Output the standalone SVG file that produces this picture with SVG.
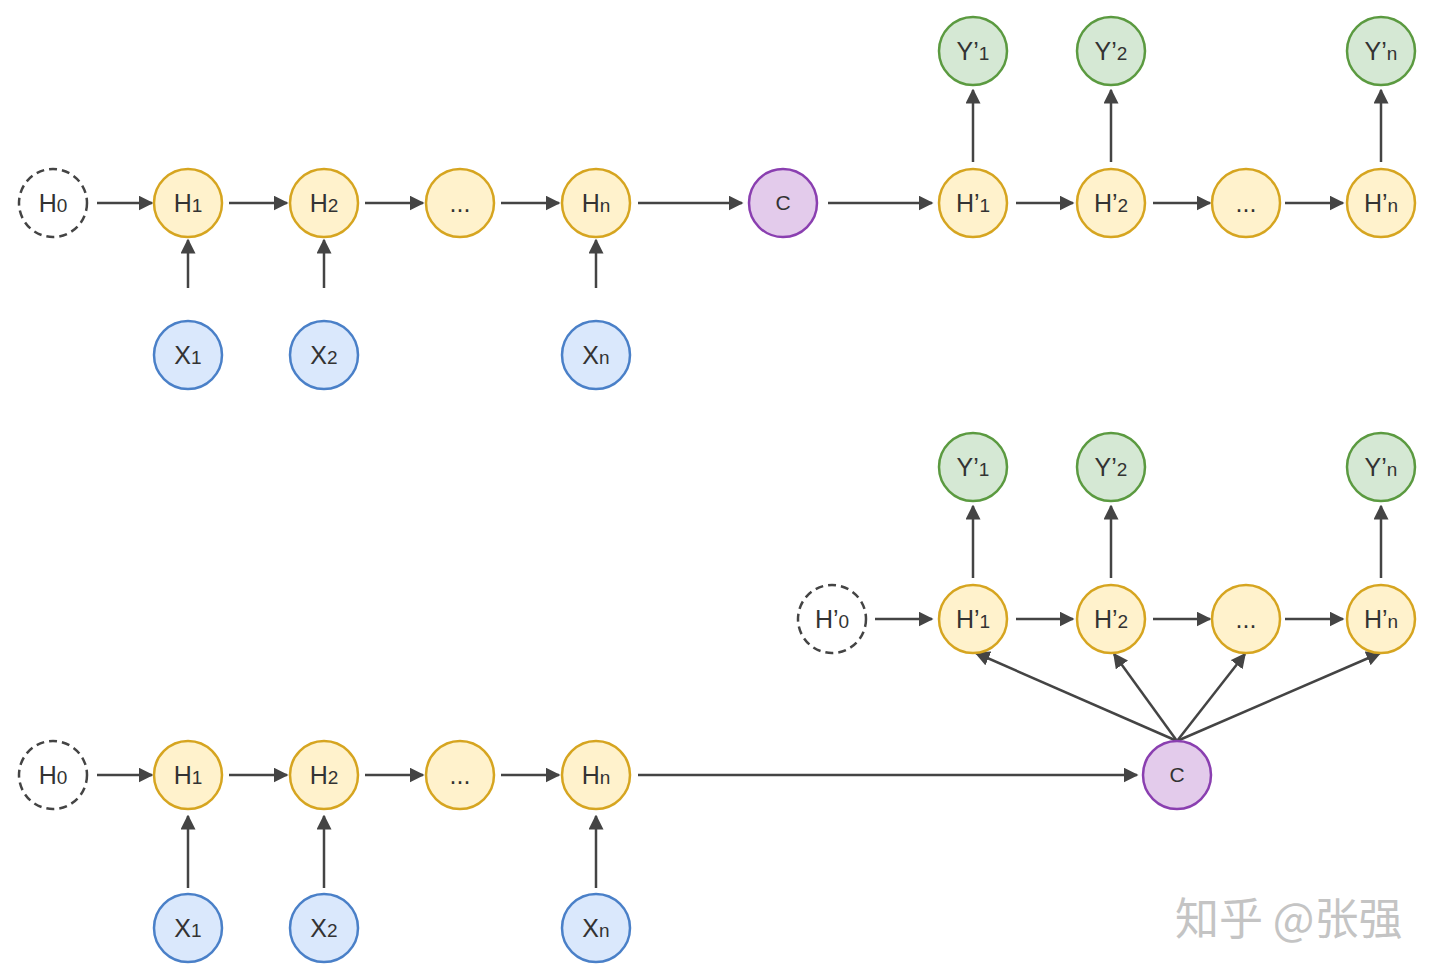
<svg xmlns="http://www.w3.org/2000/svg" width="1440" height="978" viewBox="0 0 1440 978">
<style>
.y{fill:#fff2cc;stroke:#d6a520;stroke-width:2.5}
.b{fill:#dae8fc;stroke:#4a80c8;stroke-width:2.5}
.g{fill:#d5e8d4;stroke:#5b9a40;stroke-width:2.5}
.p{fill:#e3cbeb;stroke:#8a3fb0;stroke-width:2.5}
.d{fill:#fff;stroke:#444;stroke-width:2.5;stroke-dasharray:8 5}
text{font-family:"Liberation Sans",Arial,sans-serif;font-size:25px;fill:#333;text-anchor:middle}
.s{font-size:19px}
.c{font-size:21px}
.e{stroke:#444;stroke-width:2.5;fill:none;marker-end:url(#a)}
.w{font-family:"Noto Sans CJK SC",sans-serif;font-size:44px;fill:#c4c4c4;text-anchor:start}
</style>
<defs>
<marker id="a" viewBox="0 0 10 10" refX="9" refY="5" markerWidth="6" markerHeight="6" markerUnits="strokeWidth" orient="auto">
<path d="M0,0L10,5L0,10z" fill="#444"/>
</marker>
</defs>
<g id="edges">
<line class="e" x1="97" y1="203" x2="152" y2="203"/>
<line class="e" x1="229" y1="203" x2="287" y2="203"/>
<line class="e" x1="365" y1="203" x2="423" y2="203"/>
<line class="e" x1="501" y1="203" x2="559" y2="203"/>
<line class="e" x1="638" y1="203" x2="742" y2="203"/>
<line class="e" x1="828" y1="203" x2="932" y2="203"/>
<line class="e" x1="1016" y1="203" x2="1073" y2="203"/>
<line class="e" x1="1153" y1="203" x2="1210" y2="203"/>
<line class="e" x1="1285" y1="203" x2="1343" y2="203"/>
<line class="e" x1="188" y1="288" x2="188" y2="240"/>
<line class="e" x1="324" y1="288" x2="324" y2="240"/>
<line class="e" x1="596" y1="288" x2="596" y2="240"/>
<line class="e" x1="973" y1="162" x2="973" y2="90"/>
<line class="e" x1="1111" y1="162" x2="1111" y2="90"/>
<line class="e" x1="1381" y1="162" x2="1381" y2="90"/>
<line class="e" x1="97" y1="775" x2="152" y2="775"/>
<line class="e" x1="229" y1="775" x2="287" y2="775"/>
<line class="e" x1="365" y1="775" x2="423" y2="775"/>
<line class="e" x1="501" y1="775" x2="559" y2="775"/>
<line class="e" x1="638" y1="775" x2="1137" y2="775"/>
<line class="e" x1="188" y1="888" x2="188" y2="816"/>
<line class="e" x1="324" y1="888" x2="324" y2="816"/>
<line class="e" x1="596" y1="888" x2="596" y2="816"/>
<line class="e" x1="875" y1="619" x2="932" y2="619"/>
<line class="e" x1="1016" y1="619" x2="1073" y2="619"/>
<line class="e" x1="1153" y1="619" x2="1210" y2="619"/>
<line class="e" x1="1285" y1="619" x2="1343" y2="619"/>
<line class="e" x1="973" y1="578" x2="973" y2="506"/>
<line class="e" x1="1111" y1="578" x2="1111" y2="506"/>
<line class="e" x1="1381" y1="578" x2="1381" y2="506"/>
<line class="e" x1="1177" y1="741" x2="976" y2="653"/>
<line class="e" x1="1177" y1="741" x2="1114" y2="654"/>
<line class="e" x1="1177" y1="741" x2="1245" y2="654"/>
<line class="e" x1="1177" y1="741" x2="1380" y2="653"/>
</g>
<g id="t-H0"><circle class="d" cx="53" cy="203" r="34"/><text x="53" y="212">H<tspan class="s">0</tspan></text></g>
<g id="t-H1"><circle class="y" cx="188" cy="203" r="34"/><text x="188" y="212">H<tspan class="s">1</tspan></text></g>
<g id="t-H2"><circle class="y" cx="324" cy="203" r="34"/><text x="324" y="212">H<tspan class="s">2</tspan></text></g>
<g id="t-Hd"><circle class="y" cx="460" cy="203" r="34"/><text x="460" y="212">...</text></g>
<g id="t-Hn"><circle class="y" cx="596" cy="203" r="34"/><text x="596" y="212">H<tspan class="s">n</tspan></text></g>
<g id="t-C"><circle class="p" cx="783" cy="203" r="34"/><text class="c" x="783" y="210">C</text></g>
<g id="t-Hp1"><circle class="y" cx="973" cy="203" r="34"/><text x="973" y="212">H’<tspan class="s">1</tspan></text></g>
<g id="t-Hp2"><circle class="y" cx="1111" cy="203" r="34"/><text x="1111" y="212">H’<tspan class="s">2</tspan></text></g>
<g id="t-Hpd"><circle class="y" cx="1246" cy="203" r="34"/><text x="1246" y="212">...</text></g>
<g id="t-Hpn"><circle class="y" cx="1381" cy="203" r="34"/><text x="1381" y="212">H’<tspan class="s">n</tspan></text></g>
<g id="t-Y1"><circle class="g" cx="973" cy="51" r="34"/><text x="973" y="60">Y’<tspan class="s">1</tspan></text></g>
<g id="t-Y2"><circle class="g" cx="1111" cy="51" r="34"/><text x="1111" y="60">Y’<tspan class="s">2</tspan></text></g>
<g id="t-Yn"><circle class="g" cx="1381" cy="51" r="34"/><text x="1381" y="60">Y’<tspan class="s">n</tspan></text></g>
<g id="t-X1"><circle class="b" cx="188" cy="355" r="34"/><text x="188" y="364">X<tspan class="s">1</tspan></text></g>
<g id="t-X2"><circle class="b" cx="324" cy="355" r="34"/><text x="324" y="364">X<tspan class="s">2</tspan></text></g>
<g id="t-Xn"><circle class="b" cx="596" cy="355" r="34"/><text x="596" y="364">X<tspan class="s">n</tspan></text></g>
<g id="b-H0"><circle class="d" cx="53" cy="775" r="34"/><text x="53" y="784">H<tspan class="s">0</tspan></text></g>
<g id="b-H1"><circle class="y" cx="188" cy="775" r="34"/><text x="188" y="784">H<tspan class="s">1</tspan></text></g>
<g id="b-H2"><circle class="y" cx="324" cy="775" r="34"/><text x="324" y="784">H<tspan class="s">2</tspan></text></g>
<g id="b-Hd"><circle class="y" cx="460" cy="775" r="34"/><text x="460" y="784">...</text></g>
<g id="b-Hn"><circle class="y" cx="596" cy="775" r="34"/><text x="596" y="784">H<tspan class="s">n</tspan></text></g>
<g id="b-C"><circle class="p" cx="1177" cy="775" r="34"/><text class="c" x="1177" y="782">C</text></g>
<g id="b-X1"><circle class="b" cx="188" cy="928" r="34"/><text x="188" y="937">X<tspan class="s">1</tspan></text></g>
<g id="b-X2"><circle class="b" cx="324" cy="928" r="34"/><text x="324" y="937">X<tspan class="s">2</tspan></text></g>
<g id="b-Xn"><circle class="b" cx="596" cy="928" r="34"/><text x="596" y="937">X<tspan class="s">n</tspan></text></g>
<g id="b-Hp0"><circle class="d" cx="832" cy="619" r="34"/><text x="832" y="628">H’<tspan class="s">0</tspan></text></g>
<g id="b-Hp1"><circle class="y" cx="973" cy="619" r="34"/><text x="973" y="628">H’<tspan class="s">1</tspan></text></g>
<g id="b-Hp2"><circle class="y" cx="1111" cy="619" r="34"/><text x="1111" y="628">H’<tspan class="s">2</tspan></text></g>
<g id="b-Hpd"><circle class="y" cx="1246" cy="619" r="34"/><text x="1246" y="628">...</text></g>
<g id="b-Hpn"><circle class="y" cx="1381" cy="619" r="34"/><text x="1381" y="628">H’<tspan class="s">n</tspan></text></g>
<g id="b-Y1"><circle class="g" cx="973" cy="467" r="34"/><text x="973" y="476">Y’<tspan class="s">1</tspan></text></g>
<g id="b-Y2"><circle class="g" cx="1111" cy="467" r="34"/><text x="1111" y="476">Y’<tspan class="s">2</tspan></text></g>
<g id="b-Yn"><circle class="g" cx="1381" cy="467" r="34"/><text x="1381" y="476">Y’<tspan class="s">n</tspan></text></g>
<text class="w" x="1175" y="935">知乎 @张强</text>
</svg>
